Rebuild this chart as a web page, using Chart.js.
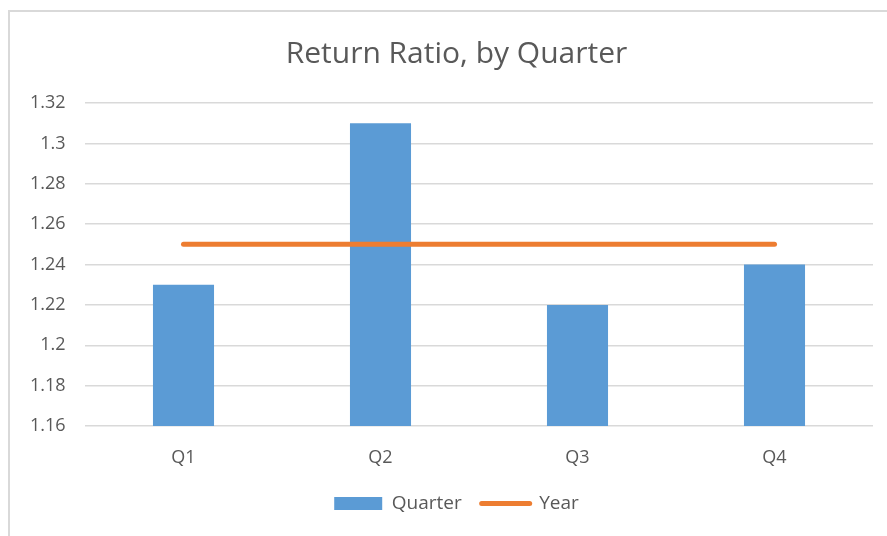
<!DOCTYPE html>
<html>
<head>
<meta charset="utf-8">
<script src="https://cdn.jsdelivr.net/npm/chart.js@4/dist/chart.umd.min.js"></script>
<style>
  html, body { margin: 0; padding: 0; background: #fff; overflow: hidden; }
  #frame {
    position: absolute; left: 8px; top: 10px; width: 900px; height: 540px;
    border-left: 2px solid #d9d9d9; border-top: 2px solid #d9d9d9;
  }
  #wrap { position: absolute; left: 10px; top: 12px; width: 877px; height: 524px; }
</style>
</head>
<body>
<div id="frame"></div>
<div id="wrap"><canvas id="chart"></canvas></div>
<script>
var categories = ['Q1', 'Q2', 'Q3', 'Q4'];
var quarterValues = [1.23, 1.31, 1.22, 1.24];
var yearValues = [1.25, 1.25, 1.25, 1.25];
var yMin = 1.16, yMax = 1.32, yStep = 0.02;

var textColor = '#595959';
var fontFamily = '"Open Sans", "Noto Sans", sans-serif';

var ctx = document.getElementById('chart');
var chart = new Chart(ctx, {
    data: {
        labels: categories,
        datasets: [{
            type: 'bar',
            label: 'Quarter',
            data: quarterValues,
            backgroundColor: '#5b9bd5',
            barPercentage: 0.31,
            categoryPercentage: 1,
            order: 1
        }, {
            type: 'line',
            label: 'Year',
            data: yearValues,
            borderColor: '#ed7d31',
            backgroundColor: '#ed7d31',
            borderWidth: 5,
            borderCapStyle: 'round',
            pointRadius: 0,
            order: 0
        }]
    },
    options: {
        responsive: true,
        maintainAspectRatio: false,
        animation: false,
        // left padding pushes the centred title/legend right; y axis is narrowed to match
        layout: { padding: { left: 30, right: 14, top: 0, bottom: 13 } },
        plugins: {
            title: {
                display: true,
                text: 'Return Ratio, by Quarter',
                color: textColor,
                font: { family: fontFamily, size: 30, weight: 'normal' },
                padding: { top: 24, bottom: 31 }
            },
            legend: {
                position: 'bottom',
                labels: {
                    color: textColor,
                    font: { family: fontFamily, size: 19 },
                    usePointStyle: true,
                    pointStyleWidth: 48,
                    boxHeight: 13,
                    padding: 20,
                    generateLabels: function(c) {
                        var items = Chart.defaults.plugins.legend.labels.generateLabels(c);
                        items.sort(function(a, b) { return a.datasetIndex - b.datasetIndex; });
                        items.forEach(function(it) {
                            if (it.datasetIndex === 0) {
                                it.pointStyle = 'rect';
                                it.lineWidth = 0;
                            } else {
                                it.pointStyle = 'line';
                                it.lineWidth = 5;
                                it.lineCap = 'round';
                            }
                        });
                        return items;
                    }
                }
            },
            tooltip: { enabled: false }
        },
        scales: {
            x: {
                afterFit: function(s) { s.height = 48; },
                grid: { display: false },
                border: { display: false },
                ticks: { color: textColor, font: { family: fontFamily, size: 18 }, padding: 13 }
            },
            y: {
                min: yMin,
                max: yMax,
                afterFit: function(s) { s.width = 45; },
                grid: { color: '#d9d9d9', lineWidth: 1.5, drawTicks: false },
                border: { display: false },
                ticks: {
                    stepSize: yStep,
                    color: textColor,
                    font: { family: fontFamily, size: 18 },
                    // mirrored so the labels are not clipped to the narrow axis box
                    mirror: true,
                    crossAlign: 'far',
                    padding: -55,
                    callback: function(v) { return String(Number(v.toFixed(2))); }
                }
            }
        }
    }
});
</script>
</body>
</html>
